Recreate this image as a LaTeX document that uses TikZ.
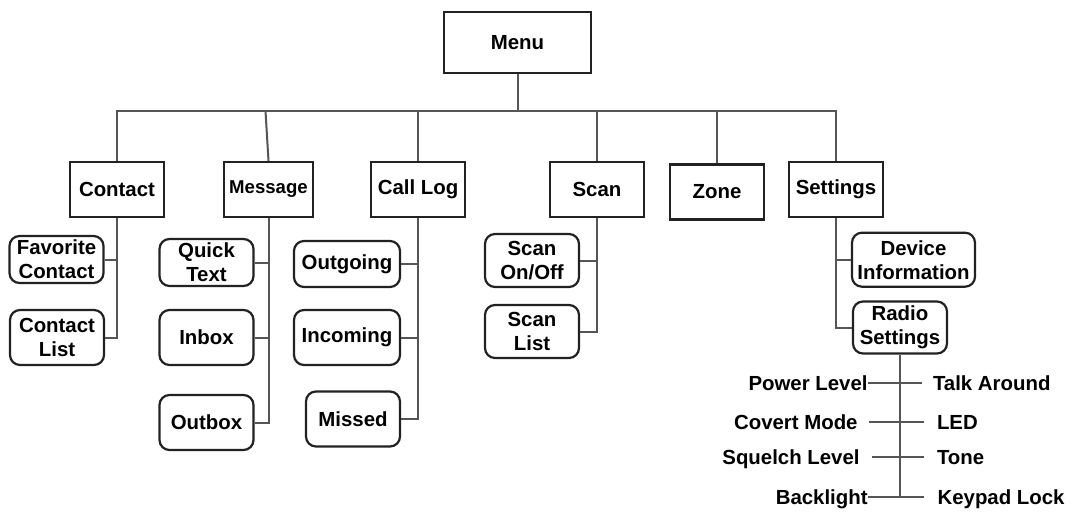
\documentclass[tikz,border=0pt]{standalone}
\usepackage{fontspec}
\setmainfont{Liberation Sans}
\usepackage{tikz}

\definecolor{boxline}{HTML}{222222}
\definecolor{linkgray}{HTML}{555555}

\tikzset{
	menubox/.style={shape=rectangle, draw=boxline, line width=1.1pt, minimum width=47pt, minimum height=27.5pt, inner sep=1pt, font=\bfseries\fontsize{10.2}{12}\selectfont},
	itembox/.style={menubox, rounded corners=5pt, align=center},
	leaf/.style={inner xsep=0pt, inner ysep=0pt, text height=7.3pt, text depth=0pt, font=\bfseries\fontsize{10.2}{12}\selectfont},
	link/.style={draw=linkgray, line width=1pt},
}

\begin{document}
\begin{tikzpicture}[x=0.5pt,y=-0.5pt]
		\useasboundingbox (0,0) rectangle (1072,511);
		
		\node[menubox, minimum width=73.5pt, minimum height=30.5pt] (menu) at (517.5,42.5) {Menu};
		
		\node[menubox] (contact) at (117,189.5) {Contact};
		\node[menubox, minimum width=44.5pt, font=\bfseries\fontsize{9.3}{11}\selectfont] (message) at (268.5,189.5) {Message};
		\node[menubox] (calllog) at (418,189.5) {Call Log};
		\node[menubox] (scan) at (597,189.5) {Scan};
		\node[menubox] (zone) at (717,192) {Zone};
		\node[menubox] (settings) at (836,189.5) {Settings};
		
		\node[itembox, minimum height=23.5pt] (favcontact) at (56.5,259.5) {Favorite\\Contact};
		\node[itembox] (contactlist) at (57,337.5) {Contact\\List};
		
		\node[itembox, minimum height=23.5pt] (quicktext) at (206.5,262.5) {Quick\\Text};
		\node[itembox] (inbox) at (206.5,337.5) {Inbox};
		\node[itembox] (outbox) at (206.5,422.5) {Outbox};
		
		\node[itembox, minimum width=53pt, minimum height=23pt] (outgoing) at (347,264) {Outgoing};
		\node[itembox, minimum width=53pt] (incoming) at (347,337.5) {Incoming};
		\node[itembox] (missed) at (353,419) {Missed};
		
		\node[itembox, minimum height=26.5pt] (scanonoff) at (532,260.5) {Scan\\On/Off};
		\node[itembox, minimum height=26.5pt] (scanlist) at (532,331.5) {Scan\\List};
		
		\node[itembox, minimum width=61.5pt, minimum height=27pt] (device) at (913.5,259.7) {Device\\Information};
		\node[itembox, minimum height=26pt] (radio) at (900,327.5) {Radio\\Settings};
		
		\node[leaf, anchor=east] (powerlvl) at (868,383.3) {Power Level};
		\node[leaf, anchor=east, inner xsep=5.5pt] (covert) at (869,421.7) {Covert Mode};
		\node[leaf, anchor=east, inner xsep=6pt] (squelch) at (872,456.7) {Squelch Level};
		\node[leaf, anchor=east] (backlight) at (868,496.7) {Backlight};
		\node[leaf, anchor=west, inner xsep=5.3pt] (talk) at (922,383.3) {Talk Around};
		\node[leaf, anchor=west, inner xsep=6.3pt] (led) at (924,421.7) {LED};
		\node[leaf, anchor=west, inner xsep=6.3pt] (tone) at (924,456.7) {Tone};
		\node[leaf, anchor=west, inner xsep=6.6pt] (keypad) at (924,496.7) {Keypad Lock};
		
		\coordinate (bus) at (517.5,111);
		\draw[link] (menu.south) -- (bus);
		\draw[link] (contact.north) |- (bus) -| (settings.north);
		\draw[link] (message.north) -- ([xshift=-1.5pt]message.north |- bus);
		\foreach \n in {calllog,scan,zone}{
			\draw[link] (\n.north) -- (\n.north |- bus);
		}
		
		\draw[link] (contact.south) |- (contactlist.east);
		\draw[link] (favcontact.east) -- (favcontact.east -| contact.south);
		
		\draw[link] (message.south) |- (outbox.east);
		\foreach \n in {quicktext,inbox}{
			\draw[link] (\n.east) -- (\n.east -| message.south);
		}
		
		\draw[link] (calllog.south) |- (missed.east);
		\foreach \n in {outgoing,incoming}{
			\draw[link] (\n.east) -- (\n.east -| calllog.south);
		}
		
		\draw[link] (scan.south) |- (scanlist.east);
		\draw[link] (scanonoff.east) -- (scanonoff.east -| scan.south);
		
		\draw[link] (settings.south) |- (radio.west);
		\draw[link] (device.west) -- (device.west -| settings.south);
		
		\draw[link] (radio.south) -- (radio.south |- backlight.east);
		\foreach \a/\b in {powerlvl/talk,covert/led,squelch/tone,backlight/keypad}{
			\draw[link] (\a.east) -- (\b.west);
		}
	\end{tikzpicture}
\end{document}
